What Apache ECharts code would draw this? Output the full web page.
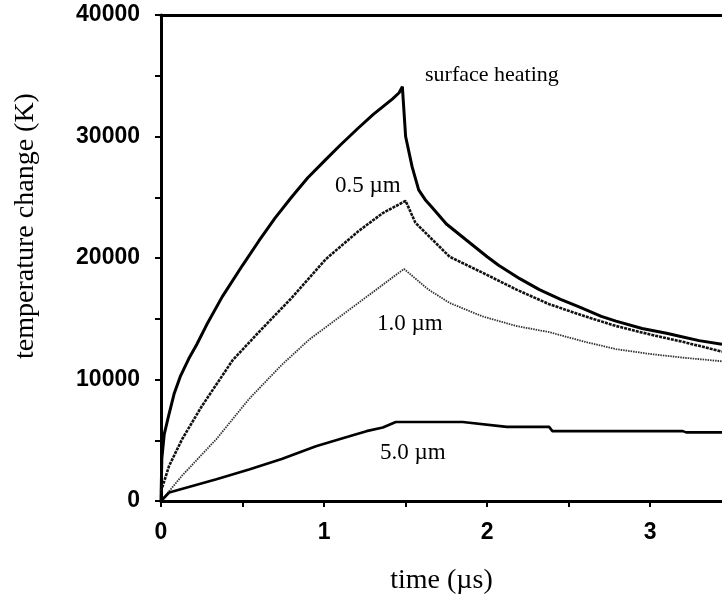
<!DOCTYPE html>
<html>
<head>
<meta charset="utf-8">
<script src="https://cdn.jsdelivr.net/npm/echarts@6/dist/echarts.min.js"></script>
<style>
  html, body { margin: 0; padding: 0; background: #fff; }
  #chart { width: 722px; height: 600px; }
</style>
</head>
<body>
<div id="chart"></div>
<script>
// time in microseconds, temperature change in K
const surfaceT = [0, 0.005, 0.02, 0.05, 0.08, 0.12, 0.17, 0.22, 0.28, 0.375, 0.5, 0.6, 0.7, 0.8, 0.9, 1.01, 1.1, 1.21, 1.3, 1.42, 1.46, 1.48,
  1.5, 1.54, 1.58, 1.62, 1.66, 1.75, 1.87, 2.0, 2.07, 2.2, 2.32, 2.45, 2.56, 2.7, 2.79, 2.95, 3.1, 3.2, 3.3, 3.44];
const surfaceV = [0, 3500, 5500, 7200, 8800, 10300, 11700, 12900, 14500, 16800, 19400, 21400, 23300, 25000, 26600, 28100, 29300, 30700, 31800, 33100, 33600, 34100,
  30000, 27500, 25600, 24800, 24200, 22800, 21500, 20100, 19400, 18300, 17400, 16600, 16000, 15200, 14800, 14200, 13800, 13500, 13200, 12900];

const half_T = [0, 0.05, 0.13, 0.25, 0.44, 0.6, 0.8, 1.01, 1.21, 1.36, 1.5, 1.56, 1.77, 1.97, 2.18, 2.38, 2.6, 2.79, 3.0, 3.2, 3.44];
const half_V = [800, 2900, 5100, 7800, 11600, 13900, 16700, 19900, 22200, 23700, 24700, 22900, 20100, 18800, 17400, 16200, 15200, 14400, 13700, 13100, 12300];

const oneT = [0, 0.13, 0.34, 0.54, 0.74, 0.91, 1.21, 1.49, 1.64, 1.77, 1.97, 2.18, 2.38, 2.6, 2.79, 3.0, 3.2, 3.44];
const oneV = [0, 2100, 5100, 8400, 11200, 13300, 16300, 19100, 17400, 16300, 15200, 14400, 13900, 13100, 12500, 12100, 11800, 11500];

const fiveT = [0, 0.05, 0.34, 0.54, 0.74, 0.95, 1.15, 1.26, 1.36, 1.44, 1.85, 2.12, 2.38, 2.4, 3.2, 3.22, 3.44];
const fiveV = [0, 700, 1800, 2600, 3450, 4500, 5300, 5750, 6050, 6500, 6500, 6100, 6100, 5750, 5750, 5650, 5650];

const xTickLabels = ['0', '1', '2', '3'];
const yTickLabels = ['0', '10000', '20000', '30000', '40000'];

const curveLabels = [
  { text: 'surface heating', left: 425, top: 64, size: 22 },
  { text: '0.5 µm', left: 335, top: 174, size: 23 },
  { text: '1.0 µm', left: 377, top: 312, size: 23 },
  { text: '5.0 µm', left: 380, top: 441, size: 23 }
];

const zip = (a, b) => a.map((t, i) => [t, b[i]]);

const chart = echarts.init(document.getElementById('chart'));
const tickFont = { fontFamily: 'Liberation Sans', fontWeight: 'bold', fontSize: 23, color: '#000' };
const serif = '"Liberation Serif", "Times New Roman", serif';

chart.setOption({
  animation: false,
  backgroundColor: '#fff',
  grid: { left: 161, right: 0, top: 15, bottom: 98 },
  xAxis: [{
    type: 'value', min: 0, max: 3.44, interval: 0.5,
    name: 'time (µs)', nameLocation: 'middle', nameGap: 66,
    nameTextStyle: { fontFamily: serif, fontSize: 28, color: '#000' },
    axisLine: { lineStyle: { color: '#000', width: 3 } },
    axisTick: { length: 6, lineStyle: { color: '#000', width: 2 } },
    splitLine: { show: false },
    axisLabel: Object.assign({}, tickFont, {
      margin: 20,
      showMaxLabel: false,
      formatter: v => (Number.isInteger(v) ? xTickLabels[v] : '')
    })
  }, {
    type: 'value', position: 'top', min: 0, max: 3.44,
    axisLine: { show: true, lineStyle: { color: '#000', width: 3 } },
    axisTick: { show: false }, axisLabel: { show: false }, splitLine: { show: false }
  }],
  yAxis: {
    type: 'value', min: 0, max: 40000, interval: 5000,
    axisLine: { lineStyle: { color: '#000', width: 3 } },
    axisTick: { length: 6, lineStyle: { color: '#000', width: 2 } },
    splitLine: { show: false },
    axisLabel: Object.assign({}, tickFont, {
      margin: 21,
      formatter: v => (v % 10000 === 0 ? yTickLabels[v / 10000] : '')
    })
  },
  series: [
    { name: 'surface heating', type: 'line', data: zip(surfaceT, surfaceV), showSymbol: false,
      lineStyle: { color: '#000', width: 3 } },
    { name: '0.5 µm', type: 'line', data: zip(half_T, half_V), showSymbol: false,
      lineStyle: { color: '#111', width: 2.6, type: [3, 1] } },
    { name: '1.0 µm', type: 'line', data: zip(oneT, oneV), showSymbol: false,
      lineStyle: { color: '#333', width: 1.8, type: [1.5, 1] } },
    { name: '5.0 µm', type: 'line', data: zip(fiveT, fiveV), showSymbol: false,
      lineStyle: { color: '#000', width: 2.6 } }
  ],
  graphic: [{
    type: 'text', x: 26, y: 226, rotation: Math.PI / 2,
    style: { text: 'temperature change (K)', font: '28px ' + serif, fill: '#000', align: 'center', verticalAlign: 'middle' }
  }].concat(curveLabels.map(l => ({
    type: 'text', left: l.left, top: l.top,
    style: { text: l.text, font: l.size + 'px ' + serif, fill: '#000' }
  })))
});
</script>
</body>
</html>
